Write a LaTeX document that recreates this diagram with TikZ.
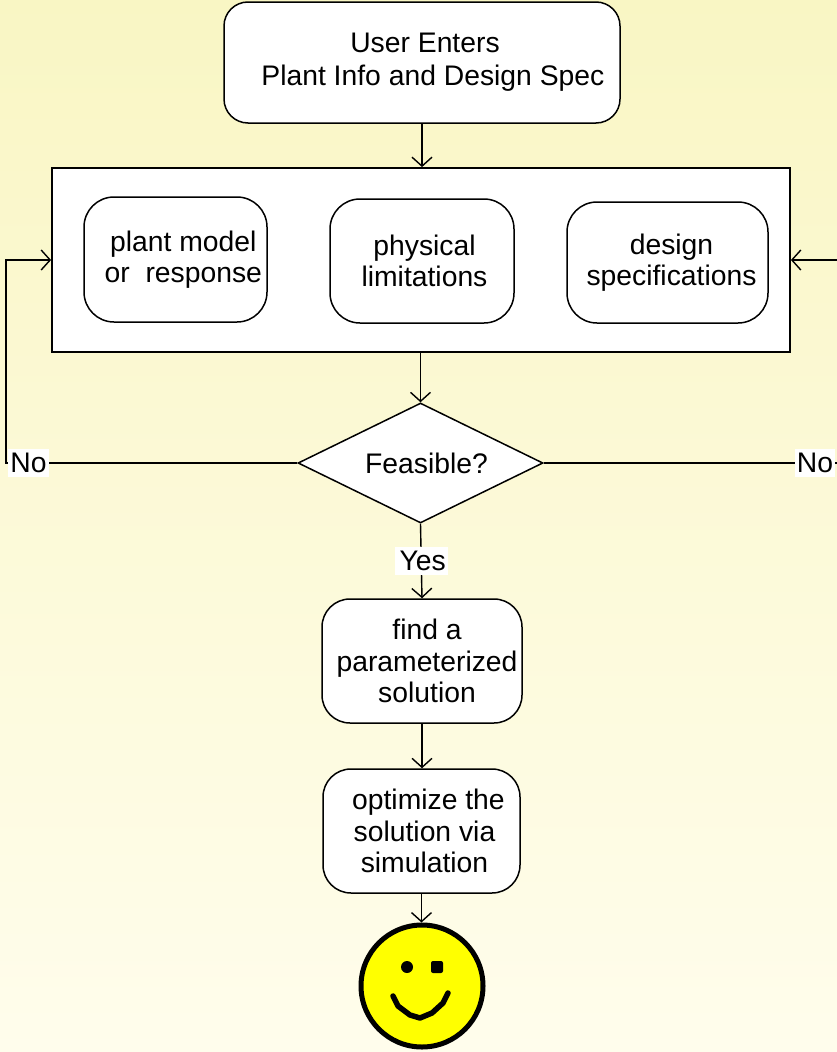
\documentclass[tikz,border=0pt]{standalone}
\usepackage{fontspec}
\setmainfont{Liberation Sans}
\usetikzlibrary{arrows.meta,shapes.geometric}
\definecolor{bgtop}{RGB}{249,246,196}
\definecolor{bgbot}{RGB}{255,253,236}
\definecolor{smile}{RGB}{255,255,0}
\newcommand\tsh[1]{\hspace*{#1pt}}
\begin{document}
\begin{tikzpicture}[x=1pt,y=-1pt,
  every node/.style={font=\fontsize{28.3}{31.5}\selectfont, align=center, inner sep=0pt},
  rbox/.style={draw, fill=white, line width=1.5pt, rounded corners=24pt},
  outerbox/.style={draw, fill=white, line width=1.8pt},
  decision/.style={draw, fill=white, diamond, aspect=2, line width=1.5pt, minimum width=245pt, minimum height=120pt},
  lab/.style={fill=white, inner xsep=2pt, inner ysep=4pt},
  arr/.style={line width=1.4pt, -{Straight Barb[length=9pt,width=20pt,line width=1.4pt]}},
  ln/.style={line width=1.4pt}]
\clip (0,0) rectangle (837,1052);
\shade[top color=bgtop, bottom color=bgbot] (0,0) rectangle (837,1052);
\useasboundingbox (0,0) rectangle (837,1052);

\node[rbox, minimum width=396pt, minimum height=121pt] (top) at (422,62.5) {\tsh{6}User Enters\\[1.5pt]\tsh{6}\ \ Plant Info and Design Spec};
\node[outerbox, minimum width=738pt, minimum height=184pt] (outer) at (421,260) {};
\node[rbox, rounded corners=30pt, minimum width=183pt, minimum height=125pt] (b1) at (175.5,259.5) {\ \ plant model\\\ \ or\ \ response};
\node[rbox, rounded corners=30pt, minimum width=184pt, minimum height=124pt] (b2) at (422,261) {\tsh{5}physical\\\tsh{5}limitations};
\node[rbox, rounded corners=30pt, minimum width=201pt, minimum height=121pt] (b3) at (667.5,262.5) {\tsh{8}design\\\tsh{8}specifications};
\node[decision] (dia) at (420.5,463) {\tsh{12}Feasible?};
\node[rbox, rounded corners=28pt, minimum width=200pt, minimum height=124pt] (b4) at (422,661) {\tsh{10}find a\\\tsh{10}parameterized\\\tsh{10}solution};
\node[rbox, rounded corners=28pt, minimum width=197pt, minimum height=124pt] (b5) at (421.5,831) {\tsh{6}\ optimize the\\\tsh{6}solution via\\\tsh{6}simulation};
\node[circle, draw, fill=smile, line width=5pt, minimum size=122pt] (sm) at (422,986) {};
\fill (407,967) circle (6pt);
\fill[rounded corners=2pt] (431,961) rectangle (443,973);
\draw[line width=5.5pt, line cap=round, line join=round] (393,996) -- (398,1006) -- (410,1015) -- (420,1018) -- (432,1013) -- (443,1003) -- (448,993);

\draw[arr] (top.south) -- (top.south |- outer.north);
\draw[arr] (dia.north |- outer.south) -- (dia.north);
\draw[arr] (dia.south) -- node[lab] (yes) {\tsh{3}Yes} (b4.north);
\draw[arr] (b4.south) -- (b4.south |- b5.north);
\draw[arr] (b5.south) -- (b5.south |- sm.north);

\coordinate (L1) at (6,463);
\coordinate (L2) at (6,260);
\coordinate (R1) at (850,463);
\coordinate (R2) at (850,260);
\draw[arr] (dia.west) -- (L1) -- (L2) -- (outer.west);
\draw[arr] (dia.east) -- (R1) -- (R2) -- (outer.east);
\node[lab] (nol) at (28.5,463) {No};
\node[lab] (nor) at (815,463) {No};
\end{tikzpicture}
\end{document}
